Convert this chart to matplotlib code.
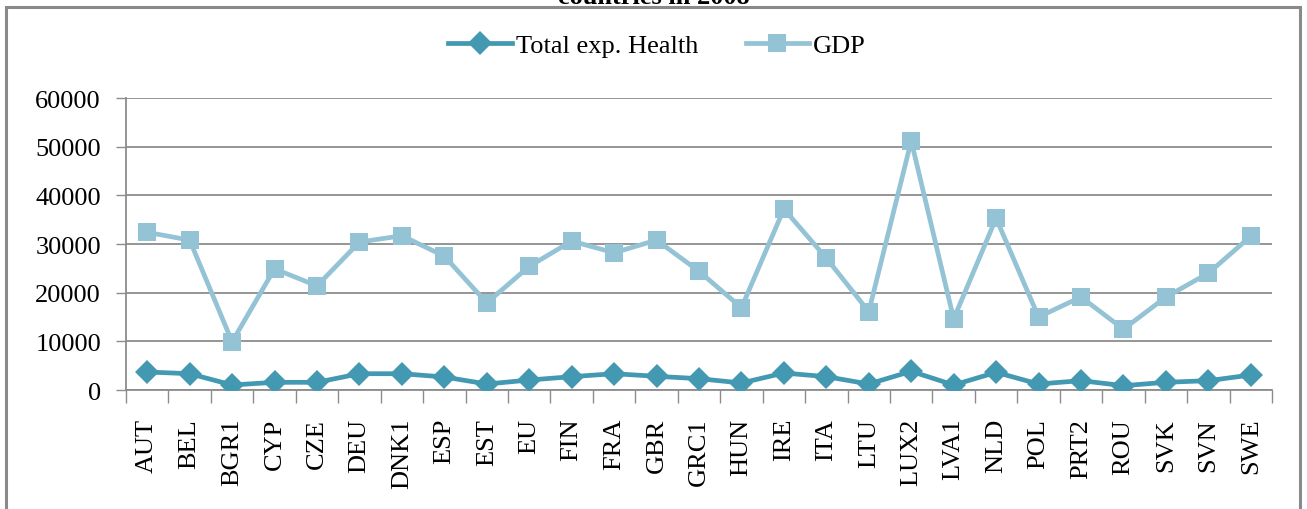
import matplotlib
matplotlib.use("Agg")
import matplotlib.pyplot as plt
import numpy as np
from matplotlib.patches import Rectangle

categories = ["AUT", "BEL", "BGR1", "CYP", "CZE", "DEU", "DNK1", "ESP", "EST", "EU",
              "FIN", "FRA", "GBR", "GRC1", "HUN", "IRE", "ITA", "LTU", "LUX2", "LVA1",
              "NLD", "POL", "PRT2", "ROU", "SVK", "SVN", "SWE"]
health = [3700, 3350, 1030, 1580, 1580, 3350, 3350, 2670, 1230, 2050,
          2740, 3350, 2810, 2330, 1440, 3490, 2740, 1230, 3840, 1030,
          3630, 1230, 1920, 890, 1580, 1920, 3080]
gdp = [32400, 30800, 9900, 24900, 21400, 30400, 31700, 27500, 17900, 25400,
       30600, 28200, 30800, 24400, 16900, 37200, 27100, 16100, 51200, 14600,
       35300, 15000, 19100, 12500, 19100, 24000, 31600]
yticks = [0, 10000, 20000, 30000, 40000, 50000, 60000]
title = "countries in 2008"

plt.rcParams['font.family'] = ['Liberation Serif', 'DejaVu Serif']

W, H = 1307, 510
fig = plt.figure(figsize=(W / 100, H / 100), dpi=100)
ax = fig.add_axes([126 / W, 1 - 391 / H, (1272 - 126) / W, (391 - 99) / H])

# outer chart border
fig.patches.append(Rectangle((6 / W, -0.05), (1300 - 6) / W, 1.05 - 8 / H,
                             transform=fig.transFigure, fill=False,
                             edgecolor="#8a8a8a", linewidth=2.2))
fig.text(0.5, 1 + 3 / H, title, ha="center", va="center", fontsize=19,
         fontweight="bold")

c_health = "#4399b1"
c_gdp = "#93c3d5"
x = np.arange(len(categories))
ax.plot(x, health, color=c_health, lw=3.4, marker="D", markersize=12,
        markeredgewidth=0, label="Total exp. Health", zorder=4)
ax.plot(x, gdp, color=c_gdp, lw=3.4, marker="s", markersize=13.5,
        markeredgewidth=0, label="GDP", zorder=3)

ax.set_xlim(-0.5, len(categories) - 0.5)
ax.set_ylim(0, 60000)
ax.set_yticks(yticks)
ax.set_yticklabels([str(v) for v in yticks], fontsize=19)
ax.yaxis.grid(True, color="#8c8c8c", linewidth=1.3)
ax.set_axisbelow(True)
ax.tick_params(axis="y", length=7, width=1, color="#8c8c8c", pad=11, direction="out")

ax.set_xticks(x)
ax.set_xticklabels(categories, rotation=90, fontsize=19)
ax.tick_params(axis="x", which="major", length=0, pad=20)
ax.set_xticks(np.arange(-0.5, len(categories)), minor=True)
ax.tick_params(axis="x", which="minor", length=9, width=1, color="#8c8c8c")

for s in ["top", "right"]:
    ax.spines[s].set_visible(False)
for s in ["left", "bottom"]:
    ax.spines[s].set_color("#8c8c8c")
    ax.spines[s].set_linewidth(1.3)

leg = fig.legend(loc="center", bbox_to_anchor=(657 / W, 1 - 46 / H), ncol=2,
                 frameon=False, fontsize=19, handlelength=2.4, columnspacing=1.8,
                 handletextpad=0.15)

fig.savefig("out.png", dpi=100)
